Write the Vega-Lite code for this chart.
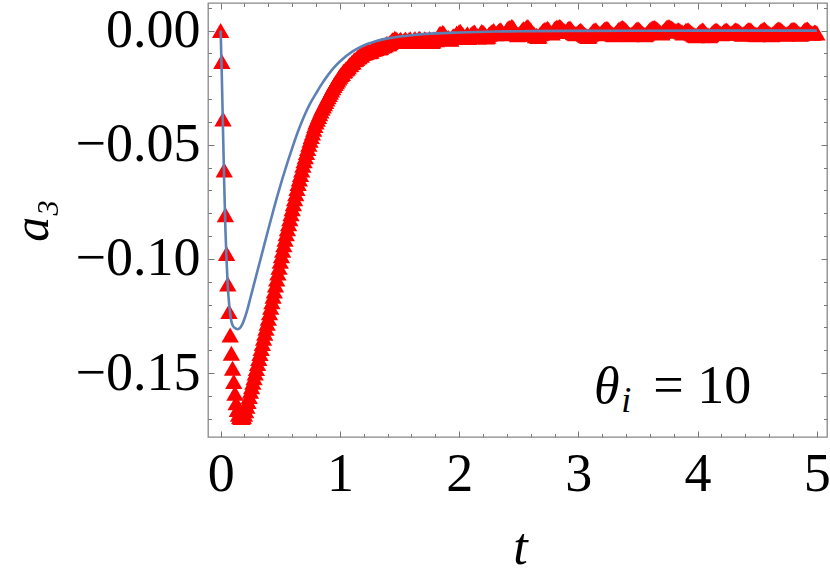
{
  "$schema": "https://vega.github.io/schema/vega-lite/v6.json",
  "autosize": {"type": "none"},
  "padding": {"left": 208, "top": 3, "right": 3, "bottom": 140},
  "width": 619,
  "height": 434,
  "background": "white",
  "config": {
    "view": {"stroke": "#888888", "strokeWidth": 1.3},
    "font": "Liberation Serif"
  },
  "datasets": {
    "red": [
      {"t":0.00,"a":0.0000},{"t":0.01,"a":-0.0135},{"t":0.02,"a":-0.0387},{"t":0.03,"a":-0.0610},{"t":0.04,"a":-0.0807},
      {"t":0.05,"a":-0.0976},{"t":0.06,"a":-0.1110},{"t":0.07,"a":-0.1230},{"t":0.08,"a":-0.1333},{"t":0.09,"a":-0.1413},
      {"t":0.10,"a":-0.1479},{"t":0.11,"a":-0.1537},{"t":0.12,"a":-0.1588},{"t":0.13,"a":-0.1630},{"t":0.14,"a":-0.1660},
      {"t":0.15,"a":-0.1680},{"t":0.16,"a":-0.1690},{"t":0.17,"a":-0.1695},{"t":0.18,"a":-0.1695},{"t":0.19,"a":-0.1690},
      {"t":0.20,"a":-0.1680},{"t":0.21,"a":-0.1665},{"t":0.22,"a":-0.1645},{"t":0.23,"a":-0.1625},{"t":0.24,"a":-0.1603},
      {"t":0.25,"a":-0.1580},{"t":0.26,"a":-0.1560},{"t":0.27,"a":-0.1540},{"t":0.28,"a":-0.1520},{"t":0.29,"a":-0.1500},
      {"t":0.30,"a":-0.1480},{"t":0.31,"a":-0.1458},{"t":0.32,"a":-0.1436},{"t":0.33,"a":-0.1414},{"t":0.34,"a":-0.1392},
      {"t":0.35,"a":-0.1370},{"t":0.36,"a":-0.1348},{"t":0.37,"a":-0.1326},{"t":0.38,"a":-0.1304},{"t":0.39,"a":-0.1282},
      {"t":0.40,"a":-0.1260},{"t":0.41,"a":-0.1236},{"t":0.42,"a":-0.1212},{"t":0.43,"a":-0.1188},{"t":0.44,"a":-0.1164},
      {"t":0.45,"a":-0.1140},{"t":0.46,"a":-0.1114},{"t":0.47,"a":-0.1088},{"t":0.48,"a":-0.1062},{"t":0.49,"a":-0.1036},
      {"t":0.50,"a":-0.1010},{"t":0.51,"a":-0.0986},{"t":0.52,"a":-0.0962},{"t":0.53,"a":-0.0938},{"t":0.54,"a":-0.0914},
      {"t":0.55,"a":-0.0890},{"t":0.56,"a":-0.0868},{"t":0.57,"a":-0.0846},{"t":0.58,"a":-0.0824},{"t":0.59,"a":-0.0802},
      {"t":0.60,"a":-0.0780},{"t":0.61,"a":-0.0758},{"t":0.62,"a":-0.0736},{"t":0.63,"a":-0.0714},{"t":0.64,"a":-0.0692},
      {"t":0.65,"a":-0.0670},{"t":0.66,"a":-0.0650},{"t":0.67,"a":-0.0630},{"t":0.68,"a":-0.0610},{"t":0.69,"a":-0.0590},
      {"t":0.70,"a":-0.0570},{"t":0.71,"a":-0.0552},{"t":0.72,"a":-0.0534},{"t":0.73,"a":-0.0516},{"t":0.74,"a":-0.0498},
      {"t":0.75,"a":-0.0480},{"t":0.76,"a":-0.0464},{"t":0.77,"a":-0.0448},{"t":0.78,"a":-0.0432},{"t":0.79,"a":-0.0416},
      {"t":0.80,"a":-0.0400},{"t":0.81,"a":-0.0388},{"t":0.82,"a":-0.0376},{"t":0.83,"a":-0.0364},{"t":0.84,"a":-0.0352},
      {"t":0.85,"a":-0.0340},{"t":0.86,"a":-0.0330},{"t":0.87,"a":-0.0320},{"t":0.88,"a":-0.0310},{"t":0.89,"a":-0.0300},
      {"t":0.90,"a":-0.0290},{"t":0.91,"a":-0.0280},{"t":0.92,"a":-0.0270},{"t":0.93,"a":-0.0260},{"t":0.94,"a":-0.0250},
      {"t":0.95,"a":-0.0240},{"t":0.96,"a":-0.0232},{"t":0.97,"a":-0.0224},{"t":0.98,"a":-0.0216},{"t":0.99,"a":-0.0208},
      {"t":1.00,"a":-0.0200},{"t":1.01,"a":-0.0192},{"t":1.02,"a":-0.0188},{"t":1.03,"a":-0.0178},{"t":1.04,"a":-0.0176},
      {"t":1.05,"a":-0.0168},{"t":1.06,"a":-0.0165},{"t":1.07,"a":-0.0158},{"t":1.08,"a":-0.0150},{"t":1.09,"a":-0.0148},
      {"t":1.10,"a":-0.0140},{"t":1.11,"a":-0.0137},{"t":1.12,"a":-0.0128},{"t":1.13,"a":-0.0127},{"t":1.14,"a":-0.0122},
      {"t":1.15,"a":-0.0116},{"t":1.16,"a":-0.0114},{"t":1.17,"a":-0.0106},{"t":1.18,"a":-0.0108},{"t":1.19,"a":-0.0100},
      {"t":1.20,"a":-0.0098},{"t":1.22,"a":-0.0095},{"t":1.24,"a":-0.0088},{"t":1.26,"a":-0.0090},{"t":1.28,"a":-0.0080},
      {"t":1.30,"a":-0.0078},{"t":1.32,"a":-0.0072},{"t":1.34,"a":-0.0074},{"t":1.36,"a":-0.0064},{"t":1.38,"a":-0.0062},
      {"t":1.40,"a":-0.0058},{"t":1.42,"a":-0.0052},{"t":1.44,"a":-0.0040},{"t":1.46,"a":-0.0033},{"t":1.48,"a":-0.0040},
      {"t":1.50,"a":-0.0042},{"t":1.52,"a":-0.0046},{"t":1.54,"a":-0.0041},{"t":1.56,"a":-0.0044},{"t":1.58,"a":-0.0039},
      {"t":1.60,"a":-0.0045},{"t":1.62,"a":-0.0040},{"t":1.64,"a":-0.0043},{"t":1.66,"a":-0.0036},{"t":1.68,"a":-0.0042},
      {"t":1.70,"a":-0.0044},{"t":1.72,"a":-0.0038},{"t":1.74,"a":-0.0043},{"t":1.76,"a":-0.0040},{"t":1.78,"a":-0.0045},
      {"t":1.80,"a":-0.0038},{"t":1.82,"a":-0.0030},{"t":1.84,"a":-0.0012},{"t":1.86,"a":-0.0008},{"t":1.88,"a":-0.0020},
      {"t":1.90,"a":-0.0032},{"t":1.92,"a":-0.0036},{"t":1.94,"a":-0.0030},{"t":1.96,"a":-0.0024},{"t":1.98,"a":-0.0010},
      {"t":2.00,"a":-0.0005},{"t":2.02,"a":-0.0012},{"t":2.04,"a":-0.0026},{"t":2.06,"a":-0.0020},{"t":2.08,"a":-0.0030},
      {"t":2.10,"a":-0.0016},{"t":2.12,"a":-0.0008},{"t":2.14,"a":-0.0022},{"t":2.16,"a":-0.0028},{"t":2.18,"a":-0.0010},
      {"t":2.20,"a":-0.0006},{"t":2.22,"a":-0.0018},{"t":2.24,"a":-0.0025},{"t":2.26,"a":-0.0012},{"t":2.28,"a":-0.0004},
      {"t":2.30,"a":-0.0010},{"t":2.32,"a":-0.0008},{"t":2.34,"a":0.0002},{"t":2.36,"a":-0.0006},{"t":2.38,"a":-0.0012},
      {"t":2.40,"a":0.0004},{"t":2.42,"a":0.0014},{"t":2.44,"a":0.0018},{"t":2.46,"a":0.0006},{"t":2.48,"a":-0.0010},
      {"t":2.50,"a":-0.0016},{"t":2.52,"a":-0.0004},{"t":2.54,"a":0.0008},{"t":2.56,"a":0.0012},{"t":2.58,"a":0.0016},
      {"t":2.60,"a":0.0004},{"t":2.62,"a":-0.0012},{"t":2.64,"a":-0.0022},{"t":2.66,"a":-0.0026},{"t":2.68,"a":-0.0014},
      {"t":2.70,"a":-0.0002},{"t":2.72,"a":0.0006},{"t":2.74,"a":0.0010},{"t":2.76,"a":-0.0004},{"t":2.78,"a":-0.0010},
      {"t":2.80,"a":0.0008},{"t":2.82,"a":0.0016},{"t":2.84,"a":0.0018},{"t":2.86,"a":0.0012},{"t":2.88,"a":0.0000},
      {"t":2.90,"a":-0.0002},{"t":2.92,"a":0.0010},{"t":2.94,"a":0.0006},{"t":2.96,"a":-0.0008},{"t":2.98,"a":-0.0014},
      {"t":3.00,"a":-0.0006},{"t":3.02,"a":0.0002},{"t":3.04,"a":-0.0010},{"t":3.06,"a":-0.0020},{"t":3.08,"a":-0.0026},
      {"t":3.10,"a":-0.0016},{"t":3.12,"a":-0.0004},{"t":3.14,"a":0.0004},{"t":3.16,"a":-0.0006},{"t":3.18,"a":-0.0014},
      {"t":3.20,"a":-0.0004},{"t":3.22,"a":0.0006},{"t":3.24,"a":0.0010},{"t":3.26,"a":-0.0002},{"t":3.28,"a":-0.0012},
      {"t":3.30,"a":-0.0018},{"t":3.32,"a":-0.0006},{"t":3.34,"a":0.0006},{"t":3.36,"a":0.0012},{"t":3.38,"a":0.0010},
      {"t":3.40,"a":0.0000},{"t":3.42,"a":-0.0012},{"t":3.44,"a":-0.0018},{"t":3.46,"a":-0.0010},{"t":3.48,"a":0.0002},
      {"t":3.50,"a":0.0008},{"t":3.52,"a":-0.0002},{"t":3.54,"a":-0.0012},{"t":3.56,"a":-0.0018},{"t":3.58,"a":-0.0008},
      {"t":3.60,"a":0.0004},{"t":3.62,"a":0.0012},{"t":3.64,"a":0.0014},{"t":3.66,"a":0.0006},{"t":3.68,"a":-0.0004},
      {"t":3.70,"a":-0.0010},{"t":3.72,"a":0.0002},{"t":3.74,"a":0.0014},{"t":3.76,"a":0.0018},{"t":3.78,"a":0.0012},
      {"t":3.80,"a":0.0004},{"t":3.82,"a":-0.0002},{"t":3.84,"a":0.0004},{"t":3.86,"a":-0.0004},{"t":3.88,"a":-0.0010},
      {"t":3.90,"a":0.0000},{"t":3.92,"a":0.0004},{"t":3.94,"a":-0.0006},{"t":3.96,"a":-0.0014},{"t":3.98,"a":-0.0020},
      {"t":4.00,"a":-0.0016},{"t":4.02,"a":-0.0004},{"t":4.04,"a":0.0003},{"t":4.06,"a":-0.0008},{"t":4.08,"a":-0.0018},
      {"t":4.10,"a":-0.0022},{"t":4.12,"a":-0.0012},{"t":4.14,"a":-0.0002},{"t":4.16,"a":0.0002},{"t":4.18,"a":-0.0008},
      {"t":4.20,"a":-0.0014},{"t":4.22,"a":-0.0004},{"t":4.24,"a":0.0003},{"t":4.26,"a":-0.0006},{"t":4.28,"a":-0.0012},
      {"t":4.30,"a":-0.0004},{"t":4.32,"a":0.0004},{"t":4.34,"a":-0.0002},{"t":4.36,"a":-0.0010},{"t":4.38,"a":-0.0016},
      {"t":4.40,"a":-0.0008},{"t":4.42,"a":0.0002},{"t":4.44,"a":0.0004},{"t":4.46,"a":-0.0006},{"t":4.48,"a":-0.0014},
      {"t":4.50,"a":-0.0018},{"t":4.52,"a":-0.0008},{"t":4.54,"a":0.0002},{"t":4.56,"a":0.0007},{"t":4.58,"a":-0.0004},
      {"t":4.60,"a":-0.0012},{"t":4.62,"a":-0.0018},{"t":4.64,"a":-0.0010},{"t":4.66,"a":0.0002},{"t":4.68,"a":0.0007},
      {"t":4.70,"a":0.0002},{"t":4.72,"a":-0.0008},{"t":4.74,"a":-0.0016},{"t":4.76,"a":-0.0010},{"t":4.78,"a":0.0000},
      {"t":4.80,"a":0.0006},{"t":4.82,"a":0.0002},{"t":4.84,"a":-0.0008},{"t":4.86,"a":-0.0016},{"t":4.88,"a":-0.0008},
      {"t":4.90,"a":0.0004},{"t":4.92,"a":0.0007},{"t":4.94,"a":-0.0004},{"t":4.96,"a":-0.0012},{"t":4.98,"a":-0.0006},
      {"t":5.00,"a":-0.0010},
      {"t":1.21,"a":-0.0097},{"t":1.23,"a":-0.0090},{"t":1.25,"a":-0.0092},{"t":1.27,"a":-0.0083},{"t":1.29,"a":-0.0081},
      {"t":1.31,"a":-0.0073},{"t":1.33,"a":-0.0076},{"t":1.35,"a":-0.0068},{"t":1.37,"a":-0.0066},{"t":1.39,"a":-0.0056},
      {"t":1.41,"a":-0.0058},{"t":1.43,"a":-0.0048},{"t":1.45,"a":-0.0042},{"t":1.47,"a":-0.0036},{"t":1.49,"a":-0.0046},
      {"t":1.51,"a":-0.0038},{"t":1.53,"a":-0.0048},{"t":1.55,"a":-0.0037},{"t":1.57,"a":-0.0047},{"t":1.59,"a":-0.0036},
      {"t":1.61,"a":-0.0048},{"t":1.63,"a":-0.0035},{"t":1.65,"a":-0.0046},{"t":1.67,"a":-0.0033},{"t":1.69,"a":-0.0048},
      {"t":1.71,"a":-0.0036},{"t":1.73,"a":-0.0047},{"t":1.75,"a":-0.0035},{"t":1.77,"a":-0.0048},{"t":1.79,"a":-0.0036},
      {"t":1.81,"a":-0.0040},{"t":1.83,"a":-0.0018},{"t":1.85,"a":-0.0016},{"t":1.87,"a":-0.0010},{"t":1.89,"a":-0.0028},
      {"t":1.91,"a":-0.0030},{"t":1.93,"a":-0.0038},{"t":1.95,"a":-0.0022},{"t":1.97,"a":-0.0020},{"t":1.99,"a":-0.0014},
      {"t":2.01,"a":-0.0003},{"t":2.03,"a":-0.0016},{"t":2.05,"a":-0.0028},{"t":2.07,"a":-0.0014},{"t":2.09,"a":-0.0026},
      {"t":2.11,"a":-0.0012},{"t":2.13,"a":-0.0006},{"t":2.15,"a":-0.0020},{"t":2.17,"a":-0.0024},{"t":2.19,"a":-0.0004},
      {"t":2.21,"a":-0.0014},{"t":2.23,"a":-0.0028},{"t":2.25,"a":-0.0016},{"t":2.27,"a":-0.0006},{"t":2.29,"a":0.0000},
      {"t":2.31,"a":-0.0014},{"t":2.33,"a":-0.0002},{"t":2.35,"a":0.0004},{"t":2.37,"a":-0.0014},{"t":2.39,"a":-0.0006},
      {"t":2.41,"a":0.0010},{"t":2.43,"a":0.0012},{"t":2.45,"a":0.0016},{"t":2.47,"a":-0.0004},{"t":2.49,"a":-0.0018},
      {"t":2.51,"a":-0.0012},{"t":2.53,"a":0.0004},{"t":2.55,"a":0.0006},{"t":2.57,"a":0.0018},{"t":2.59,"a":0.0008},
      {"t":2.61,"a":-0.0006},{"t":2.63,"a":-0.0016},{"t":2.65,"a":-0.0020},{"t":2.67,"a":-0.0024},{"t":2.69,"a":-0.0010},
      {"t":2.71,"a":0.0002},{"t":2.73,"a":0.0004},{"t":2.75,"a":0.0006},{"t":2.77,"a":-0.0008},{"t":2.79,"a":-0.0002},
      {"t":2.81,"a":0.0012},{"t":2.83,"a":0.0014},{"t":2.85,"a":0.0016},{"t":2.87,"a":0.0004},{"t":2.89,"a":-0.0004},
      {"t":2.91,"a":0.0006},{"t":2.93,"a":0.0012},{"t":2.95,"a":-0.0002},{"t":2.97,"a":-0.0012},{"t":2.99,"a":-0.0010},
      {"t":3.01,"a":-0.0002},{"t":3.03,"a":-0.0004},{"t":3.05,"a":-0.0016},{"t":3.07,"a":-0.0022},{"t":3.09,"a":-0.0024},
      {"t":3.11,"a":-0.0010},{"t":3.13,"a":0.0000},{"t":3.15,"a":0.0002},{"t":3.17,"a":-0.0010},{"t":3.19,"a":-0.0010},
      {"t":3.21,"a":0.0002},{"t":3.23,"a":0.0008},{"t":3.25,"a":0.0006},{"t":3.27,"a":-0.0008},{"t":3.29,"a":-0.0016},
      {"t":3.31,"a":-0.0012},{"t":3.33,"a":0.0000},{"t":3.35,"a":0.0008},{"t":3.37,"a":0.0014},{"t":3.39,"a":0.0006},
      {"t":3.41,"a":-0.0006},{"t":3.43,"a":-0.0016},{"t":3.45,"a":-0.0014},{"t":3.47,"a":-0.0004},{"t":3.49,"a":0.0006},
      {"t":3.51,"a":0.0004},{"t":3.53,"a":-0.0008},{"t":3.55,"a":-0.0016},{"t":3.57,"a":-0.0014},{"t":3.59,"a":-0.0002},
      {"t":3.61,"a":0.0008},{"t":3.63,"a":0.0012},{"t":3.65,"a":0.0010},{"t":3.67,"a":0.0000},{"t":3.69,"a":-0.0008},
      {"t":3.71,"a":-0.0004},{"t":3.73,"a":0.0008},{"t":3.75,"a":0.0016},{"t":3.77,"a":0.0014},{"t":3.79,"a":0.0008},
      {"t":3.81,"a":0.0000},{"t":3.83,"a":0.0002},{"t":3.85,"a":0.0000},{"t":3.87,"a":-0.0006},{"t":3.89,"a":-0.0006},
      {"t":3.91,"a":0.0002},{"t":3.93,"a":-0.0002},{"t":3.95,"a":-0.0010},{"t":3.97,"a":-0.0018},{"t":3.99,"a":-0.0022},
      {"t":4.01,"a":-0.0010},{"t":4.03,"a":-0.0001},{"t":4.05,"a":0.0000},{"t":4.07,"a":-0.0014},{"t":4.09,"a":-0.0020},
      {"t":4.11,"a":-0.0018},{"t":4.13,"a":-0.0006},{"t":4.15,"a":0.0001},{"t":4.17,"a":-0.0002},{"t":4.19,"a":-0.0012},
      {"t":4.21,"a":-0.0010},{"t":4.23,"a":0.0000},{"t":4.25,"a":-0.0001},{"t":4.27,"a":-0.0010},{"t":4.29,"a":-0.0008},
      {"t":4.31,"a":0.0001},{"t":4.33,"a":0.0002},{"t":4.35,"a":-0.0006},{"t":4.37,"a":-0.0014},{"t":4.39,"a":-0.0012},
      {"t":4.41,"a":-0.0002},{"t":4.43,"a":0.0005},{"t":4.45,"a":0.0000},{"t":4.47,"a":-0.0010},{"t":4.49,"a":-0.0016},
      {"t":4.51,"a":-0.0014},{"t":4.53,"a":-0.0002},{"t":4.55,"a":0.0005},{"t":4.57,"a":0.0002},{"t":4.59,"a":-0.0008},
      {"t":4.61,"a":-0.0016},{"t":4.63,"a":-0.0014},{"t":4.65,"a":-0.0004},{"t":4.67,"a":0.0005},{"t":4.69,"a":0.0006},
      {"t":4.71,"a":-0.0003},{"t":4.73,"a":-0.0012},{"t":4.75,"a":-0.0014},{"t":4.77,"a":-0.0006},{"t":4.79,"a":0.0004},
      {"t":4.81,"a":0.0005},{"t":4.83,"a":-0.0002},{"t":4.85,"a":-0.0012},{"t":4.87,"a":-0.0014},{"t":4.89,"a":-0.0002},
      {"t":4.91,"a":0.0006},{"t":4.93,"a":0.0003},{"t":4.95,"a":-0.0008},{"t":4.97,"a":-0.0010},{"t":4.99,"a":-0.0007}
    ],
    "blue": [
      {"t":0.00,"a":0.0000},{"t":0.01,"a":-0.0200},{"t":0.02,"a":-0.0440},{"t":0.03,"a":-0.0670},{"t":0.04,"a":-0.0870},
      {"t":0.05,"a":-0.1010},{"t":0.06,"a":-0.1120},{"t":0.07,"a":-0.1190},{"t":0.08,"a":-0.1240},{"t":0.09,"a":-0.1273},
      {"t":0.10,"a":-0.1290},{"t":0.12,"a":-0.1303},{"t":0.14,"a":-0.1308},{"t":0.16,"a":-0.1304},{"t":0.18,"a":-0.1288},
      {"t":0.20,"a":-0.1262},{"t":0.22,"a":-0.1230},{"t":0.25,"a":-0.1170},{"t":0.30,"a":-0.1070},{"t":0.35,"a":-0.0970},
      {"t":0.40,"a":-0.0870},{"t":0.45,"a":-0.0772},{"t":0.50,"a":-0.0680},{"t":0.55,"a":-0.0595},{"t":0.60,"a":-0.0515},
      {"t":0.65,"a":-0.0440},{"t":0.70,"a":-0.0375},{"t":0.75,"a":-0.0320},{"t":0.80,"a":-0.0275},{"t":0.85,"a":-0.0232},
      {"t":0.90,"a":-0.0195},{"t":0.95,"a":-0.0162},{"t":1.00,"a":-0.0135},{"t":1.10,"a":-0.0093},{"t":1.20,"a":-0.0065},
      {"t":1.30,"a":-0.0047},{"t":1.40,"a":-0.0034},{"t":1.50,"a":-0.0026},{"t":1.60,"a":-0.0020},{"t":1.80,"a":-0.0012},
      {"t":2.00,"a":-0.0008},{"t":2.30,"a":-0.0004},{"t":2.60,"a":-0.0002},{"t":3.00,"a":-0.0001},{"t":3.50,"a":-0.00005},
      {"t":4.00,"a":0.0000},{"t":5.00,"a":0.0000}
    ],
    "theta": [{"t":3.13,"a":-0.1631,"label":"θ"}],
    "sub": [{"t":3.36,"a":-0.1670,"label":"i"}],
    "rest": [{"t":4.45,"a":-0.1631,"label":"= 10"}]
  },
  "resolve": {
    "scale": {"x": "shared", "y": "shared"},
    "axis": {"x": "independent", "y": "independent"}
  },
  "layer": [
    {
      "data": {"name": "red"},
      "mark": {"type": "point", "shape": "triangle-up", "filled": true, "color": "#ff0000", "size": 300, "opacity": 1, "strokeWidth": 0},
      "encoding": {
        "x": {
          "field": "t", "type": "quantitative",
          "scale": {"domain": [-0.106, 5.085], "nice": false, "zero": false},
          "axis": {
            "orient": "bottom", "values": [0, 1, 2, 3, 4, 5], "format": "d",
            "tickSize": -6, "tickColor": "#777777", "tickWidth": 1, "domain": false, "grid": false,
            "labelFont": "Liberation Serif", "labelFontSize": 54, "labelColor": "#000000", "labelPadding": 16,
            "labelFlush": false, "labelOverlap": false,
            "title": "t", "titleFont": "Liberation Serif", "titleFontStyle": "italic", "titleFontWeight": "normal",
            "titleFontSize": 52, "titleColor": "#000000", "titleX": 312, "titleY": 126,
            "titleAlign": "center", "titleBaseline": "alphabetic"
          }
        },
        "y": {
          "field": "a", "type": "quantitative",
          "scale": {"domain": [-0.178, 0.0121], "nice": false, "zero": false},
          "axis": {
            "orient": "left", "values": [0, -0.05, -0.1, -0.15], "format": ".2f",
            "tickSize": -6, "tickColor": "#777777", "tickWidth": 1, "domain": false, "grid": false,
            "labelFont": "Liberation Serif", "labelFontSize": 54, "labelColor": "#000000", "labelPadding": 14,
            "labelFlush": false, "labelOverlap": false,
            "title": "a₃", "titleFont": "Liberation Serif", "titleFontStyle": "italic", "titleFontWeight": "normal",
            "titleFontSize": 50, "titleColor": "#000000", "titleAngle": -90, "titleX": -161, "titleY": 217,
            "titleAlign": "center", "titleBaseline": "alphabetic"
          }
        }
      }
    },
    {
      "data": {"name": "blue"},
      "mark": {"type": "line", "color": "#5E81B5", "strokeWidth": 2.6, "interpolate": "monotone"},
      "encoding": {
        "x": {
          "field": "t", "type": "quantitative",
          "axis": {
            "orient": "bottom",
            "values": [0.2, 0.4, 0.6, 0.8, 1.2, 1.4, 1.6, 1.8, 2.2, 2.4, 2.6, 2.8, 3.2, 3.4, 3.6, 3.8, 4.2, 4.4, 4.6, 4.8],
            "tickSize": -3.5, "tickColor": "#777777", "tickWidth": 1, "domain": false, "grid": false,
            "labels": false, "title": null
          }
        },
        "y": {
          "field": "a", "type": "quantitative",
          "axis": {
            "orient": "left",
            "values": [0.01, -0.01, -0.02, -0.03, -0.04, -0.06, -0.07, -0.08, -0.09, -0.11, -0.12, -0.13, -0.14, -0.16, -0.17],
            "tickSize": -3.5, "tickColor": "#777777", "tickWidth": 1, "domain": false, "grid": false,
            "labels": false, "title": null
          }
        }
      }
    },
    {
      "data": {"name": "theta"},
      "mark": {"type": "text", "font": "Liberation Serif", "fontStyle": "italic", "fontSize": 52, "align": "left", "baseline": "alphabetic", "color": "#000000"},
      "encoding": {
        "x": {
          "field": "t", "type": "quantitative",
          "axis": {
            "orient": "top", "values": [0, 1, 2, 3, 4, 5],
            "tickSize": -6, "tickColor": "#777777", "tickWidth": 1, "domain": false, "grid": false,
            "labels": false, "title": null
          }
        },
        "y": {
          "field": "a", "type": "quantitative",
          "axis": {
            "orient": "right", "values": [0, -0.05, -0.1, -0.15],
            "tickSize": -6, "tickColor": "#777777", "tickWidth": 1, "domain": false, "grid": false,
            "labels": false, "title": null
          }
        },
        "text": {"field": "label"}
      }
    },
    {
      "data": {"name": "sub"},
      "mark": {"type": "text", "font": "Liberation Serif", "fontStyle": "italic", "fontSize": 36, "align": "left", "baseline": "alphabetic", "color": "#000000"},
      "encoding": {
        "x": {
          "field": "t", "type": "quantitative",
          "axis": {
            "orient": "top",
            "values": [0.2, 0.4, 0.6, 0.8, 1.2, 1.4, 1.6, 1.8, 2.2, 2.4, 2.6, 2.8, 3.2, 3.4, 3.6, 3.8, 4.2, 4.4, 4.6, 4.8],
            "tickSize": -3.5, "tickColor": "#777777", "tickWidth": 1, "domain": false, "grid": false,
            "labels": false, "title": null
          }
        },
        "y": {
          "field": "a", "type": "quantitative",
          "axis": {
            "orient": "right",
            "values": [0.01, -0.01, -0.02, -0.03, -0.04, -0.06, -0.07, -0.08, -0.09, -0.11, -0.12, -0.13, -0.14, -0.16, -0.17],
            "tickSize": -3.5, "tickColor": "#777777", "tickWidth": 1, "domain": false, "grid": false,
            "labels": false, "title": null
          }
        },
        "text": {"field": "label"}
      }
    },
    {
      "data": {"name": "rest"},
      "mark": {"type": "text", "font": "Liberation Serif", "fontSize": 54, "align": "right", "baseline": "alphabetic", "color": "#000000"},
      "encoding": {
        "x": {"field": "t", "type": "quantitative", "axis": null},
        "y": {"field": "a", "type": "quantitative", "axis": null},
        "text": {"field": "label"}
      }
    }
  ]
}
